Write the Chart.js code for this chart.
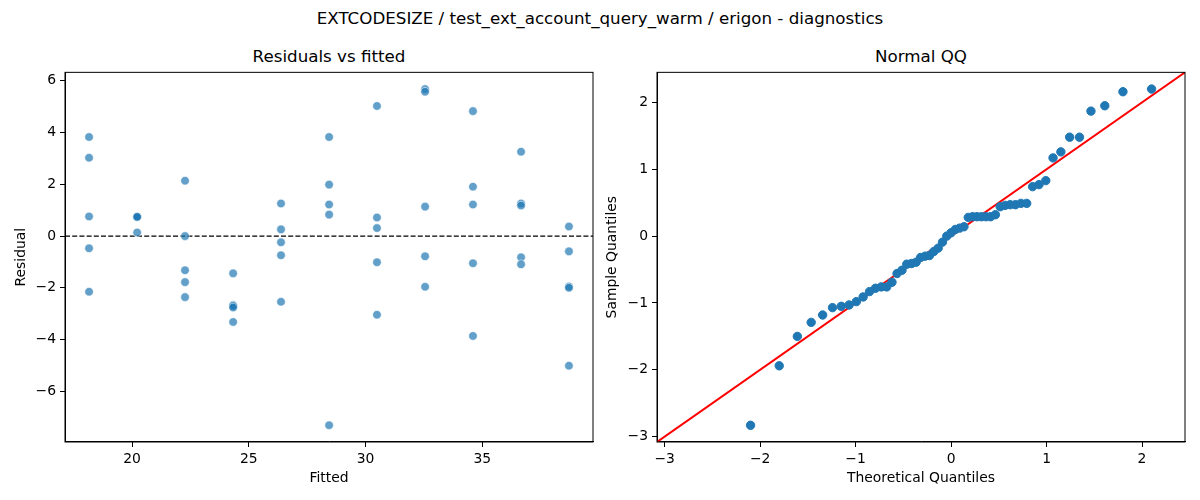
<!DOCTYPE html>
<html>
<head>
<meta charset="utf-8">
<script src="https://cdn.jsdelivr.net/npm/chart.js@4"></script>
<style>
  body { margin: 0; background: #fff; font-family: "DejaVu Sans", sans-serif; }
  #page { position: relative; width: 1200px; height: 500px; overflow: hidden; }
  .txt { position: absolute; font-size: 16.7px; line-height: 20px; color: #000; white-space: nowrap; transform: translateX(-50%); }
  .box { position: absolute; top: 60px; width: 600px; height: 440px; }
</style>
</head>
<body>
<div id="page">
  <div class="txt" style="left:600px; top:8px;">EXTCODESIZE / test_ext_account_query_warm / erigon - diagnostics</div>
  <div class="txt" style="left:329px; top:46px;">Residuals vs fitted</div>
  <div class="txt" style="left:921px; top:46px;">Normal QQ</div>
  <div class="box" style="left:0;"><canvas id="residChart"></canvas></div>
  <div class="box" style="left:600px;"><canvas id="qqChart"></canvas></div>
</div>
<script>
// fitted values (one per group) and the residuals read for each group
const fittedLevels = [18.16, 20.22, 22.27, 24.33, 26.38, 28.44, 30.49, 32.55, 34.60, 36.66, 38.71];
const residualsByLevel = [
  [3.83, 3.03, 0.76, -0.47, -2.15],
  [0.76, 0.75, 0.75, 0.74, 0.14],
  [2.14, 0.00, -1.32, -1.78, -2.36],
  [-1.44, -2.67, -2.70, -2.76, -3.32],
  [1.26, 0.26, -0.24, -0.74, -2.54],
  [3.83, 1.99, 1.22, 0.83, -7.31],
  [5.03, 0.72, 0.31, -1.01, -3.04],
  [5.68, 5.58, 1.14, -0.78, -1.96],
  [4.83, 1.91, 1.22, -1.05, -3.86],
  [3.26, 1.26, 1.18, -0.82, -1.09],
  [0.37, -0.59, -1.95, -2.00, -5.01]
];
const residXTicks = [20, 25, 30, 35];
const residYTicks = [-6, -4, -2, 0, 2, 4, 6];
const residXRange = [17.13, 39.74];
const residYRange = [-7.96, 6.33];

// QQ plot
const theoreticalQ = [
  -2.10, -1.80, -1.61, -1.465, -1.345, -1.242, -1.150, -1.068, -0.992, -0.921,
  -0.854, -0.792, -0.732, -0.674, -0.619, -0.566, -0.514, -0.464, -0.414, -0.366,
  -0.319, -0.272, -0.226, -0.180, -0.135, -0.090, -0.045, 0.000, 0.045, 0.090,
  0.135, 0.180, 0.226, 0.272, 0.319, 0.366, 0.414, 0.464, 0.514, 0.566,
  0.619, 0.674, 0.732, 0.792, 0.854, 0.921, 0.992, 1.068, 1.150, 1.242,
  1.345, 1.465, 1.61, 1.80, 2.10
];
const sampleQ = [
  -2.83, -1.94, -1.50, -1.29, -1.18, -1.07, -1.05, -1.03, -0.98, -0.91,
  -0.83, -0.78, -0.76, -0.76, -0.69, -0.56, -0.51, -0.42, -0.41, -0.39,
  -0.32, -0.30, -0.29, -0.23, -0.18, -0.09, 0.00, 0.05, 0.10, 0.12,
  0.14, 0.28, 0.29, 0.29, 0.29, 0.29, 0.29, 0.32, 0.44, 0.46,
  0.47, 0.47, 0.49, 0.49, 0.74, 0.77, 0.83, 1.17, 1.26, 1.48,
  1.48, 1.87, 1.95, 2.16, 2.20
];
const qqTicks = [-3, -2, -1, 0, 1, 2];
const qqRange = [-3.08, 2.45];

Chart.defaults.font.family = "DejaVu Sans";
Chart.defaults.font.size = 13.9;
Chart.defaults.color = "#000";
Chart.defaults.animation = false;

// tick labels with a real minus sign, like matplotlib
function fmt(v) {
  return v < 0 ? "\u2212" + Math.abs(v) : String(v);
}

// black box round the plot area
const framePlugin = {
  id: "frame",
  afterDraw(chart) {
    const a = chart.chartArea;
    const ctx = chart.ctx;
    ctx.save();
    ctx.strokeStyle = "#000";
    ctx.lineWidth = 1;
    ctx.strokeRect(a.left, a.top, a.right - a.left, a.bottom - a.top);
    ctx.restore();
  }
};

function axis(range, ticks, title, titlePad, fitSize, horizontal) {
  return {
    type: "linear",
    min: range[0],
    max: range[1],
    grid: { drawOnChartArea: false, drawTicks: true, tickLength: 5, tickColor: "#000" },
    border: { display: true, color: "#000" },
    ticks: { padding: 4, callback: v => fmt(v), maxRotation: 0 },
    afterBuildTicks: scale => { scale.ticks = ticks.map(v => ({ value: v })); },
    afterFit: scale => {
      if (horizontal) scale.height = fitSize; else scale.width = fitSize;
    },
    title: { display: true, text: title, padding: titlePad, font: { size: 13.9 } }
  };
}

// residual points
const residPoints = [];
fittedLevels.forEach((f, i) => {
  residualsByLevel[i].forEach(r => residPoints.push({ x: f, y: r }));
});

new Chart(document.getElementById("residChart"), {
  type: "scatter",
  data: {
    datasets: [
      {
        data: residPoints,
        pointRadius: 4.3,
        pointBackgroundColor: "rgba(31,119,180,0.7)",
        pointBorderColor: "rgba(255,255,255,0.7)",
        pointBorderWidth: 0.8
      },
      {
        type: "line",
        data: [{ x: residXRange[0], y: 0 }, { x: residXRange[1], y: 0 }],
        borderColor: "#000",
        borderWidth: 1.3,
        borderDash: [5, 2.2],
        pointRadius: 0,
        showLine: true
      }
    ]
  },
  options: {
    responsive: true,
    maintainAspectRatio: false,
    layout: { padding: { top: 11, right: 7, left: 0, bottom: 0 } },
    plugins: { legend: { display: false }, tooltip: { enabled: false } },
    scales: {
      x: axis(residXRange, residXTicks, "Fitted", { top: 4, bottom: 13.7 }, 58, true),
      y: axis(residYRange, residYTicks, "Residual", { top: 13.4, bottom: 4 }, 65, false)
    }
  },
  plugins: [framePlugin]
});

const qqPoints = theoreticalQ.map((t, i) => ({ x: t, y: sampleQ[i] }));

new Chart(document.getElementById("qqChart"), {
  type: "scatter",
  data: {
    datasets: [
      {
        data: qqPoints,
        pointRadius: 4.2,
        pointBackgroundColor: "#1f77b4",
        pointBorderColor: "#1f77b4",
        pointBorderWidth: 1
      },
      {
        type: "line",
        data: [{ x: qqRange[0], y: qqRange[0] }, { x: qqRange[1], y: qqRange[1] }],
        borderColor: "#ff0000",
        borderWidth: 2,
        pointRadius: 0,
        showLine: true
      }
    ]
  },
  options: {
    responsive: true,
    maintainAspectRatio: false,
    layout: { padding: { top: 11, right: 15, left: 0, bottom: 0 } },
    plugins: { legend: { display: false }, tooltip: { enabled: false } },
    scales: {
      x: axis(qqRange, qqTicks, "Theoretical Quantiles", { top: 4, bottom: 13.7 }, 58, true),
      y: axis(qqRange, qqTicks, "Sample Quantiles", { top: 4.4, bottom: 4 }, 57, false)
    }
  },
  plugins: [framePlugin]
});
</script>
</body>
</html>
